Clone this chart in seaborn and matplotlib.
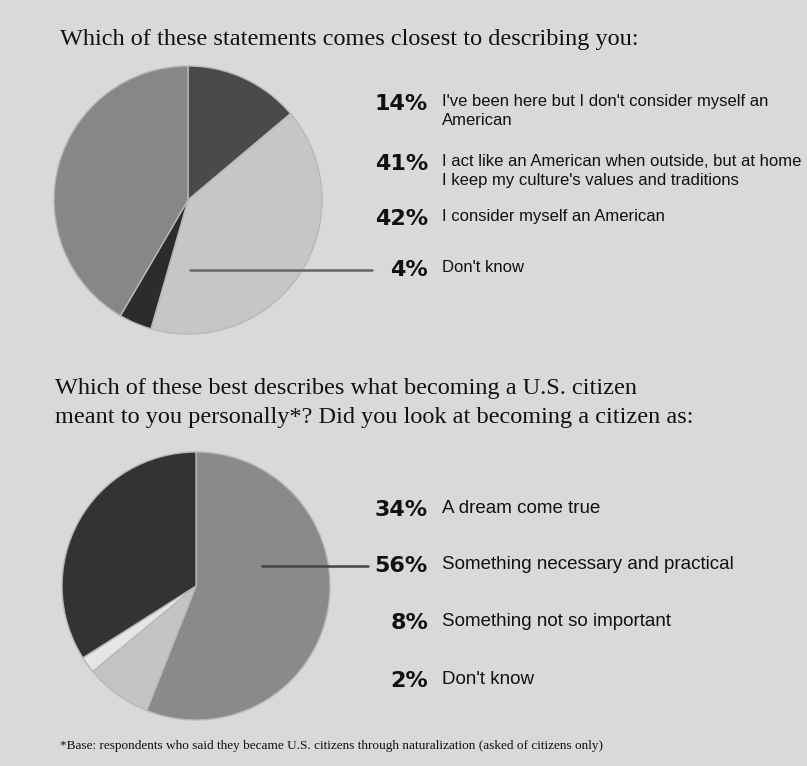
import matplotlib
matplotlib.use("Agg")
import matplotlib.pyplot as plt
import seaborn as sns
from matplotlib.lines import Line2D

# ---- data -------------------------------------------------------------
q1_title = "Which of these statements comes closest to describing you:"
q1_values = [14, 41, 4, 42]          # clockwise from 12 o'clock
q1_colors = ["#4a4a4a", "#c6c6c6", "#2c2c2c", "#878787"]
q1_legend_pct = ["14%", "41%", "42%", "4%"]
q1_legend_text = [
    "I've been here but I don't consider myself an\nAmerican",
    "I act like an American when outside, but at home\nI keep my culture's values and traditions",
    "I consider myself an American",
    "Don't know",
]

q2_title = ("Which of these best describes what becoming a U.S. citizen\n"
            "meant to you personally*? Did you look at becoming a citizen as:")
q2_values = [56, 8, 2, 34]           # clockwise from 12 o'clock
q2_colors = ["#8a8a8a", "#c4c4c4", "#e6e6e6", "#333333"]
q2_legend_pct = ["34%", "56%", "8%", "2%"]
q2_legend_text = [
    "A dream come true",
    "Something necessary and practical",
    "Something not so important",
    "Don't know",
]

footnote = ("*Base: respondents who said they became U.S. citizens through "
            "naturalization (asked of citizens only)")

# ---- figure -----------------------------------------------------------
W, H = 807, 766
BG = "#d9d9d9"
sns.set_theme(style="white")
plt.rcParams["font.family"] = ["Liberation Sans", "DejaVu Sans"]

fig = plt.figure(figsize=(W / 100, H / 100), dpi=100, facecolor=BG)


def px(x, y):
    """pixel position (from top-left) -> figure fraction"""
    return x / W, 1 - y / H


def pie_axes(cx, cy, r):
    return fig.add_axes([(cx - r) / W, (H - cy - r) / H, 2 * r / W, 2 * r / H])


def draw_pie(ax, values, colors):
    ax.pie(values, colors=colors, startangle=90, counterclock=False,
           radius=1.0, wedgeprops=dict(edgecolor="#b8b8b8", linewidth=1.0))
    ax.set_xlim(-1.0, 1.0)
    ax.set_ylim(-1.0, 1.0)
    ax.set_aspect("equal")
    ax.axis("off")


def legend_rows(pcts, texts, ys, size, pct_right=428, text_left=442):
    for p, t, y in zip(pcts, texts, ys):
        fig.text(*px(pct_right, y), p, ha="right", va="center", fontsize=16,
                 fontweight="bold", family=["DejaVu Sans"], color="#111111")
        fig.text(*px(text_left, y - 10), t, ha="left", va="top", fontsize=size,
                 color="#111111", linespacing=1.3)


serif = ["Liberation Serif", "DejaVu Serif"]

# top question
fig.text(*px(60, 40), q1_title, ha="left", va="center", fontsize=17.5,
         family=serif, color="#111111")
ax1 = pie_axes(188, 200, 134)
draw_pie(ax1, q1_values, q1_colors)
legend_rows(q1_legend_pct, q1_legend_text, [104, 164, 219, 270], 12)
fig.add_artist(Line2D([190 / W, 372 / W], [1 - 270 / H, 1 - 270 / H],
                      color="#666666", lw=1.8))

# bottom question
fig.text(*px(55, 403), q2_title, ha="left", va="center", fontsize=17.5,
         family=serif, color="#111111", linespacing=1.45)
ax2 = pie_axes(196, 586, 134)
draw_pie(ax2, q2_values, q2_colors)
legend_rows(q2_legend_pct, q2_legend_text, [510, 566, 623, 681], 13.5)
fig.add_artist(Line2D([262 / W, 368 / W], [1 - 566 / H, 1 - 566 / H],
                      color="#444444", lw=1.8))

fig.text(*px(60, 746), footnote, ha="left", va="center", fontsize=9.5,
         family=serif, color="#111111")

fig.savefig("out.png", dpi=100, facecolor=BG)
